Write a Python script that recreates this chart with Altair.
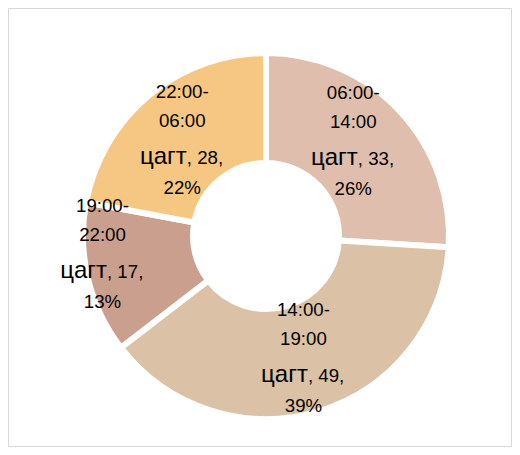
import altair as alt
import pandas as pd

periods = ["06:00-14:00", "14:00-19:00", "19:00-22:00", "22:00-06:00"]
counts = [33, 49, 17, 28]
percents = [26, 39, 13, 22]
colors = ["#DFBEAE", "#DBC2A6", "#CA9F8E", "#F5C782"]
unit = "цагт"

df = pd.DataFrame({"idx": list(range(len(periods))), "period": periods,
                   "count": counts, "pct": percents})
df["start"] = [p.split("-")[0] + "-" for p in periods]
df["end"] = [p.split("-")[1] for p in periods]
df["num"] = [f", {c}," for c in counts]
df["pcts"] = [f"{p}%" for p in percents]
df["unit"] = unit

W, H = 504, 439
CX, CY = 258, 228
FONT = "Liberation Sans"

base = alt.Chart(df).encode(
    theta=alt.Theta("count:Q", stack=True),
    order=alt.Order("idx:Q"),
)

arcs = base.mark_arc(innerRadius=73, outerRadius=183, stroke="white", strokeWidth=6).encode(
    color=alt.Color("period:N", scale=alt.Scale(domain=periods, range=colors), legend=None),
    x=alt.value(CX), y=alt.value(CY),
)

# per-label (radius, dx, dy) placement tweaks
label_adjust = [(128, -6, -8), (128, 0, -1), (164, -4, -21), (128, -2, 2)]
pieces = [
    ("start", 18.67, "center", 0, -41),
    ("end", 18.67, "center", 0, -12),
    ("unit", 24, "right", 4.5, 25),
    ("num", 18.67, "left", 4.5, 25),
    ("pcts", 18.67, "center", 0, 55),
]

layers = [arcs]
for i, (r, ax, ay) in enumerate(label_adjust):
    for field, size, align, dx, dy in pieces:
        layers.append(
            base.transform_calculate(t=f"datum.idx == {i} ? datum.{field} : ''")
            .mark_text(radius=r, fontSize=size, align=align, baseline="alphabetic",
                       dx=dx + ax, dy=dy + ay, font=FONT, color="#000000")
            .encode(text="t:N", x=alt.value(CX), y=alt.value(CY))
        )

border = alt.Chart(pd.DataFrame({"a": [0]})).mark_rect(
    fillOpacity=0, stroke="#D9D9D9", strokeWidth=1
).encode(x=alt.value(0.5), x2=alt.value(W - 0.5), y=alt.value(0.5), y2=alt.value(H - 0.5))
layers.append(border)

chart = alt.layer(*layers).properties(
    width=W, height=H, padding=0, autosize="none"
).configure_view(stroke=None)

chart.save("out.html", embed_options={"renderer": "svg", "actions": False})
